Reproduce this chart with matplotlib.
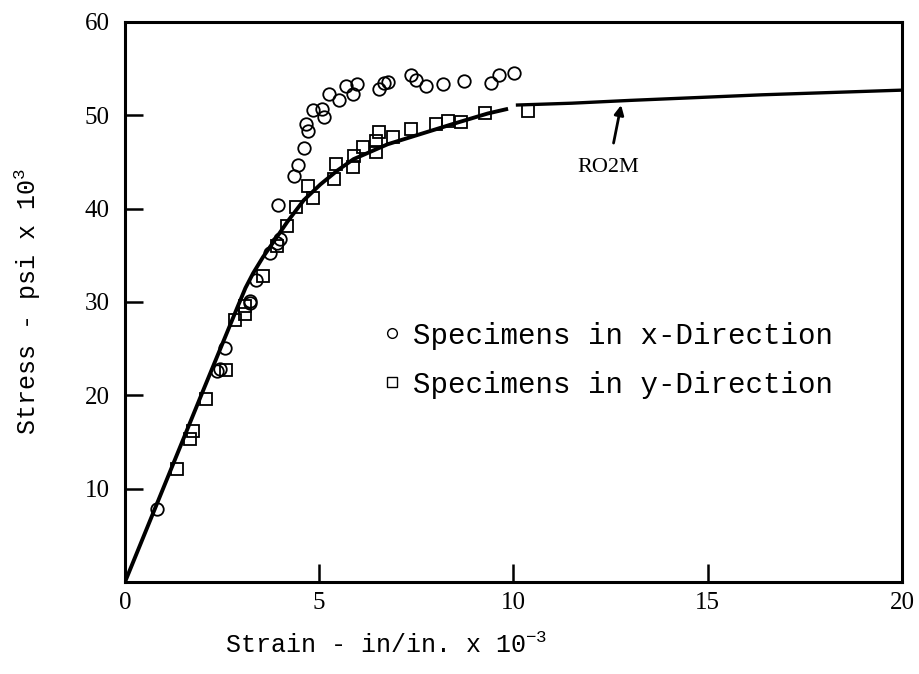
import matplotlib
matplotlib.use("Agg")
import matplotlib.pyplot as plt
from matplotlib.lines import Line2D

# specimens in x-direction (strain x1e-3, stress ksi)
x_dir_strain = [0.83, 2.37, 2.45, 2.58, 3.23, 3.23, 3.38, 3.74, 3.92, 4.0, 3.95,
                4.36, 4.46, 4.60, 4.72, 4.65, 4.85, 5.11, 5.08, 5.26, 5.50, 5.68,
                5.86, 5.96, 6.53, 6.66, 6.76, 7.35, 7.48, 7.74, 8.18, 8.72, 9.42,
                9.63, 10.01]
x_dir_stress = [7.8, 22.6, 22.8, 25.1, 29.9, 30.1, 32.4, 35.2, 36.3, 36.8, 40.4,
                43.5, 44.7, 46.5, 48.3, 49.1, 50.6, 49.8, 50.7, 52.3, 51.6, 53.1,
                52.3, 53.4, 52.8, 53.5, 53.6, 54.3, 53.8, 53.1, 53.4, 53.7, 53.5,
                54.3, 54.5]

# specimens in y-direction
y_dir_strain = [1.34, 1.68, 1.75, 2.09, 2.61, 2.84, 3.10, 3.10, 3.54, 3.92, 4.18,
                4.41, 4.85, 4.70, 5.39, 5.42, 5.86, 5.89, 6.12, 6.45, 6.45, 6.55,
                6.89, 7.35, 8.0, 8.31, 8.65, 9.26, 10.37]
y_dir_stress = [12.1, 15.3, 16.2, 19.6, 22.7, 28.1, 28.7, 29.6, 32.8, 36.0, 38.1,
                40.2, 41.1, 42.4, 43.2, 44.8, 44.5, 45.6, 46.6, 46.1, 47.2, 48.2,
                47.7, 48.5, 49.1, 49.4, 49.3, 50.2, 50.5]

# RO2M curve (gap near 10)
ro2m_strain_a = [0.0, 1.0, 2.0, 2.89, 3.10, 3.30, 3.55, 3.80, 4.18, 4.60, 5.03,
                 5.47, 5.88, 6.76, 7.61, 8.46, 9.34, 9.86]
ro2m_stress_a = [0.0, 10.2, 20.4, 29.4, 31.5, 33.1, 34.8, 36.3, 38.6, 40.9, 42.6,
                 44.1, 45.3, 46.9, 48.0, 49.1, 50.2, 50.7]
ro2m_strain_b = [10.06, 11.5, 13.0, 16.4, 20.0]
ro2m_stress_b = [51.1, 51.3, 51.6, 52.2, 52.7]

x_ticks = [0, 5, 10, 15, 20]
y_ticks = [10, 20, 30, 40, 50, 60]

plt.rcParams["mathtext.fontset"] = "custom"
plt.rcParams["mathtext.rm"] = "Liberation Mono"

MONO = "Liberation Mono"
SERIF = "Liberation Serif"

fig = plt.figure(figsize=(9.2, 6.74), dpi=100)
ax = fig.add_axes([125 / 920, 1 - 582 / 674, 777 / 920, 560 / 674])

ax.plot(ro2m_strain_a, ro2m_stress_a, color="black", lw=2.8, solid_capstyle="butt", zorder=3)
ax.plot(ro2m_strain_b, ro2m_stress_b, color="black", lw=2.4, solid_capstyle="butt", zorder=3)
ax.plot(x_dir_strain, x_dir_stress, ls="none", marker="o", ms=9, mfc="none",
        mec="black", mew=1.3, zorder=4)
ax.plot(y_dir_strain, y_dir_stress, ls="none", marker="s", ms=8.5, mfc="none",
        mec="black", mew=1.3, zorder=4)

ax.annotate("RO2M", xy=(12.77, 51.1), xytext=(12.45, 44.4),
            ha="center", va="center", fontsize=16, family=SERIF,
            arrowprops=dict(arrowstyle="-|>", color="black", lw=2,
                            mutation_scale=14, shrinkA=9, shrinkB=0))

ax.set_xlim(0, 20)
ax.set_ylim(0, 60)
ax.set_xticks(x_ticks)
ax.set_yticks(y_ticks)
ax.set_xticklabels([str(v) for v in x_ticks])
ax.set_yticklabels([str(v) for v in y_ticks])
for lbl in ax.get_xticklabels() + ax.get_yticklabels():
    lbl.set_family(SERIF)
    lbl.set_fontsize(18)
ax.tick_params(axis="both", direction="in", length=13, width=1.8)
ax.tick_params(axis="x", pad=7)
ax.tick_params(axis="y", pad=11)
for sp in ax.spines.values():
    sp.set_linewidth(2.2)

ax.set_xlabel(r"Strain - in/in. x 10$^{-3}$", family=MONO, fontsize=18)
ax.xaxis.set_label_coords((386 - 125) / 777, -0.09)
ax.set_ylabel(r"Stress - psi x 10$^{3}$", family=MONO, fontsize=18)
ax.yaxis.set_label_coords(-0.105, 0.5)

handles = [
    Line2D([], [], ls="none", marker="o", ms=7, mfc="none", mec="black", mew=1.0),
    Line2D([], [], ls="none", marker="s", ms=7, mfc="none", mec="black", mew=1.0),
]
ax.legend(handles, ["Specimens in x-Direction", "Specimens in y-Direction"],
          loc="upper left", bbox_to_anchor=(0.329, 0.465), frameon=False,
          prop={"family": MONO, "size": 21}, handlelength=0.8,
          handletextpad=0.3, labelspacing=0.72, borderpad=0, borderaxespad=0)

fig.savefig("out.png", dpi=100)
